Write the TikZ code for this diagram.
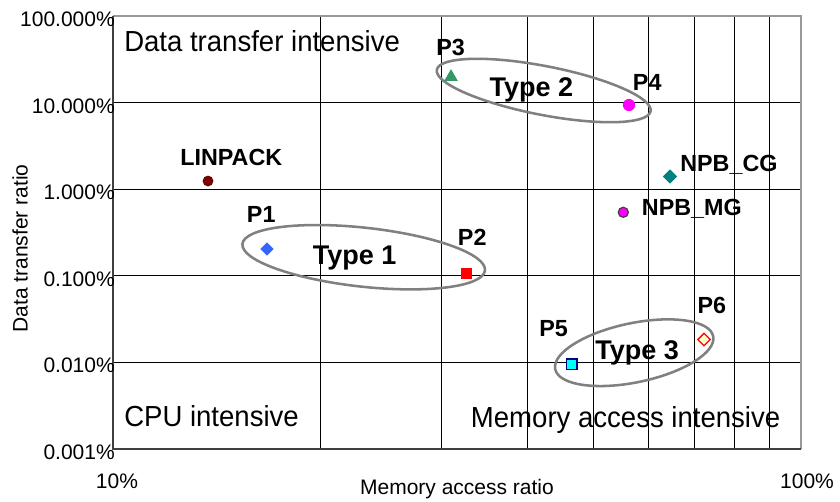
\documentclass[tikz,border=0pt]{standalone}
\usepackage{fontspec}
\setmainfont{Liberation Sans}
\newfontfamily\cornerfont[FakeStretch=0.95]{Liberation Sans}
\usetikzlibrary{shapes.geometric}
\definecolor{linpackred}{HTML}{800000}
\definecolor{pblue}{HTML}{3366FF}
\definecolor{pgreen}{HTML}{339966}
\definecolor{pteal}{HTML}{008080}
\definecolor{pnavy}{HTML}{000080}
\definecolor{pyellow}{HTML}{FFFFCC}
\definecolor{pmagenta}{HTML}{FF00FF}
\definecolor{pcyan}{HTML}{00FFFF}
\definecolor{pred}{HTML}{FF0000}
\definecolor{framedark}{HTML}{404040}
\definecolor{framelight}{HTML}{999999}
\definecolor{ellgray}{HTML}{808080}
\begin{document}
\begin{tikzpicture}[x=0.75pt,y=-0.75pt,
  gridline/.style={black,line width=0.8pt},
  lbl/.style={font=\fontsize{17.5}{20}\selectfont\bfseries, anchor=base west, inner sep=0pt},
  typelbl/.style={font=\fontsize{20.25}{24}\selectfont\bfseries, anchor=base west, inner sep=0pt},
  corner/.style={font=\cornerfont\fontsize{21.75}{26}\selectfont, anchor=base west, inner sep=0pt},
  ticklbl/.style={font=\fontsize{15.75}{18}\selectfont, inner sep=0pt},
  groupell/.style={draw=ellgray, line width=1.9pt},
  mk/.style={inner sep=0pt, outer sep=0pt},
]
\useasboundingbox (0,0) rectangle (840,501);
\fill[white] (0,0) rectangle (840,501);

% grid
\foreach \k in {2,...,9}
  \draw[gridline] ({113+688*log10(\k)},16) -- ({113+688*log10(\k)},449);
\foreach \i in {1,...,4}
  \draw[gridline] (113,{16+86.6*\i}) -- (801,{16+86.6*\i});

% frame
\draw[framelight, line width=1.6pt] (113,16) -- (801,16) -- (801,449);
\draw[framedark, line width=1.6pt] (113,16) -- (113,449) -- (801,449);

% y tick labels
\node[ticklbl, anchor=base east] (y100) at (115,26) {100.000\%};
\node[ticklbl, anchor=base east] (y10) at (115,113) {10.000\%};
\node[ticklbl, anchor=base east] (y1) at (115,199.5) {1.000\%};
\node[ticklbl, anchor=base east] (y01) at (115,286) {0.100\%};
\node[ticklbl, anchor=base east] (y001) at (115,372.5) {0.010\%};
\node[ticklbl, anchor=base east] (y0001) at (115,459.5) {0.001\%};

% x tick labels
\node[ticklbl] (x10) at (117,481) {10\%};
\node[ticklbl] (x100) at (807,481) {100\%};

% axis titles
\node[ticklbl] (xtitle) at (457,489) {Memory access ratio};
\node[ticklbl, rotate=90] (ytitle) at (20,248.5) {Data transfer ratio};

% corner texts
\node[corner] (cdata) at (124,51.7) {Data transfer intensive};
\node[corner] (ccpu) at (124,426.7) {CPU intensive};
\node[corner] (cmem) at (470.7,427) {Memory access intensive};

% group ellipses
\draw[groupell, rotate around={-6.24:(363.7,257.2)}] (363.7,257.2) ellipse [x radius=122, y radius=29.5];
\draw[groupell, rotate around={-11:(543.7,90.5)}] (543.7,90.5) ellipse [x radius=108.9, y radius=24.4];
\draw[groupell, rotate around={11.8:(634.2,352.7)}] (634.2,352.7) ellipse [x radius=80.7, y radius=29.6];

% markers
\node[mk, circle, fill=linpackred, draw=linpackred!60!black, line width=0.4pt, minimum size=7.6pt] (mlinpack) at (208,181) {};
\node[mk, diamond, fill=pblue, minimum size=10pt] (mp1) at (267,249) {};
\node[mk, rectangle, fill=pred, minimum size=8.75pt] (mp2) at (466.5,273.5) {};
\node[mk, regular polygon, regular polygon sides=3, fill=pgreen, minimum size=11.8pt] (mp3) at (451,77) {};
\node[mk, circle, fill=pmagenta, minimum size=9.2pt] (mp4) at (629,105) {};
\node[mk, diamond, fill=pteal, minimum size=10.8pt] (mcg) at (670,176.5) {};
\node[mk, circle, fill=pmagenta, draw=framedark, line width=0.9pt, minimum size=7.6pt] (mmg) at (623.3,212.3) {};
\node[mk, rectangle, fill=pcyan, draw=pnavy, line width=1pt, minimum size=7.8pt] (mp5) at (571.7,364.3) {};
\node[mk, diamond, fill=pyellow, draw=pred, line width=1pt, minimum size=9.3pt] (mp6) at (704,339.5) {};

% labels
\node[lbl] (llinpack) at (180,165.7) {LINPACK};
\node[lbl] (lp1) at (246.7,222.7) {P1};
\node[lbl] (lp2) at (457.7,245) {P2};
\node[lbl] (lp3) at (436,55.7) {P3};
\node[lbl] (lp4) at (632.7,90.7) {P4};
\node[lbl] (lcg) at (680,171.7) {NPB\_CG};
\node[lbl] (lmg) at (641.7,215) {NPB\_MG};
\node[lbl] (lp5) at (539,336.7) {P5};
\node[lbl] (lp6) at (697.3,313.3) {P6};
\node[typelbl] (t1) at (312.7,264.3) {Type 1};
\node[typelbl] (t2) at (489.3,96.7) {Type 2};
\node[typelbl] (t3) at (595,359.3) {Type 3};
\end{tikzpicture}
\end{document}
